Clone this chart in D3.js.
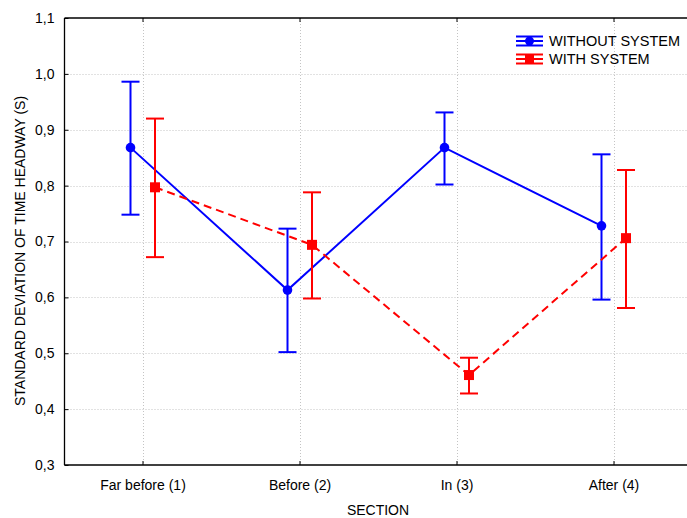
<!DOCTYPE html>
<html><head><meta charset="utf-8">
<script src="https://cdn.jsdelivr.net/npm/d3@7"></script>
<style>body{margin:0;background:#fff}svg{display:block}text{font-family:"Liberation Sans",Arial,sans-serif}</style>
</head><body>
<script>
const categories = ["Far before (1)", "Before (2)", "In (3)", "After (4)"];
const withoutMean = [0.868, 0.613, 0.868, 0.728];
const withoutLow  = [0.748, 0.502, 0.802, 0.596];
const withoutHigh = [0.986, 0.723, 0.931, 0.856];
const withMean = [0.797, 0.694, 0.461, 0.706];
const withLow  = [0.672, 0.598, 0.428, 0.581];
const withHigh = [0.920, 0.788, 0.492, 0.828];
const yTicks = [0.3, 0.4, 0.5, 0.6, 0.7, 0.8, 0.9, 1.0, 1.1];
const seriesNames = ["WITHOUT SYSTEM", "WITH SYSTEM"];

(function () {
const W = 687, H = 518;
const pL = 64.5, pR = 692.5, pT = 18, pB = 465;
const svg = d3.select("body").append("svg").attr("width", W).attr("height", H);

const x = d3.scaleBand().domain(categories).range([pL, pR]).padding(0);
const y = d3.scaleLinear().domain([0.3, 1.1]).range([pB, pT]);
const cx = c => x(c) + x.bandwidth() / 2;
const fmt = v => d3.format(".1f")(v).replace(".", ",");

// grid
const g = svg.append("g");
g.selectAll(".hg").data(yTicks.slice(1, -1)).enter().append("line")
  .attr("x1", pL).attr("x2", W).attr("y1", d => Math.round(y(d)) + 0.5).attr("y2", d => Math.round(y(d)) + 0.5)
  .attr("stroke", "#c4c4c4").attr("stroke-dasharray", "1,2");
g.selectAll(".vg").data(categories).enter().append("line")
  .attr("x1", d => Math.round(cx(d)) + 0.5).attr("x2", d => Math.round(cx(d)) + 0.5).attr("y1", pT).attr("y2", pB)
  .attr("stroke", "#c4c4c4").attr("stroke-dasharray", "1,2");

// axes
const yAxis = svg.append("g").attr("transform", `translate(${pL},0)`)
  .call(d3.axisLeft(y).tickValues(yTicks).tickFormat(fmt).tickSize(-4).tickPadding(10));
const xAxis = svg.append("g").attr("transform", `translate(0,${pB})`)
  .call(d3.axisBottom(x).tickSize(-4).tickPadding(15));
const xTop = svg.append("g").attr("transform", `translate(0,${pT})`)
  .call(d3.axisTop(x).tickSize(-4).tickFormat(""));
[yAxis, xAxis, xTop].forEach(a => {
  a.select(".domain").attr("stroke", "#000").attr("stroke-width", 1.3);
  a.selectAll(".tick line").attr("stroke", "#000");
  a.selectAll("text").attr("font-size", 14).attr("fill", "#000").attr("font-family", "Liberation Sans, Arial, sans-serif");
});
xTop.select(".domain").attr("d", `M${pL},0H${W}`);
xAxis.select(".domain").attr("d", `M${pL},0H${W}`);
yAxis.select(".domain").attr("d", `M0,${pB}V${pT}`);

svg.append("text").attr("x", 378).attr("y", 515).attr("text-anchor", "middle")
  .attr("font-size", 14).text("SECTION");
svg.append("text").attr("transform", `translate(25,251) rotate(-90)`)
  .attr("text-anchor", "middle").attr("font-size", 14).text("STANDARD DEVIATION OF TIME HEADWAY (S)");

function drawSeries(mean, low, high, color, off, dash, marker) {
  const pts = categories.map((c, i) => ({ x: cx(c) + off, m: mean[i], lo: low[i], hi: high[i] }));
  const line = d3.line().x(d => d.x).y(d => y(d.m));
  svg.append("path").datum(pts).attr("d", line).attr("fill", "none")
    .attr("stroke", color).attr("stroke-width", 2).attr("stroke-dasharray", dash);
  const eb = svg.append("g");
  pts.forEach(d => {
    eb.append("line").attr("x1", d.x).attr("x2", d.x).attr("y1", y(d.lo)).attr("y2", y(d.hi)).attr("stroke", color).attr("stroke-width", 2);
    [d.lo, d.hi].forEach(v => eb.append("line").attr("x1", d.x - 9).attr("x2", d.x + 9).attr("y1", y(v)).attr("y2", y(v)).attr("stroke", color).attr("stroke-width", 2));
    if (marker === "circle") eb.append("circle").attr("cx", d.x).attr("cy", y(d.m)).attr("r", 4.8).attr("fill", color);
    else eb.append("rect").attr("x", d.x - 5).attr("y", y(d.m) - 5).attr("width", 10).attr("height", 10).attr("fill", color);
  });
}
drawSeries(withoutMean, withoutLow, withoutHigh, "#0000ff", -12.5, null, "circle");
drawSeries(withMean, withLow, withHigh, "#ff0000", 12, "8,5", "square");

// legend
const legend = [
  { name: seriesNames[0], color: "#0000ff", marker: "circle", yy: 41 },
  { name: seriesNames[1], color: "#ff0000", marker: "square", yy: 59 }
];
legend.forEach(l => {
  const lg = svg.append("g");
  [-4.5, 0, 4.5].forEach(dy => lg.append("line").attr("x1", 516).attr("x2", 543).attr("y1", l.yy + dy).attr("y2", l.yy + dy).attr("stroke", l.color).attr("stroke-width", 2));
  lg.append("line").attr("x1", 529.5).attr("x2", 529.5).attr("y1", l.yy - 4.5).attr("y2", l.yy + 4.5).attr("stroke", l.color).attr("stroke-width", 2);
  if (l.marker === "circle") lg.append("circle").attr("cx", 529.5).attr("cy", l.yy).attr("r", 4.5).attr("fill", l.color);
  else lg.append("rect").attr("x", 525).attr("y", l.yy - 4.5).attr("width", 9).attr("height", 9).attr("fill", l.color);
  lg.append("text").attr("x", 549).attr("y", l.yy + 5).attr("font-size", 14.5).text(l.name);
});
})();
</script>
</body></html>
